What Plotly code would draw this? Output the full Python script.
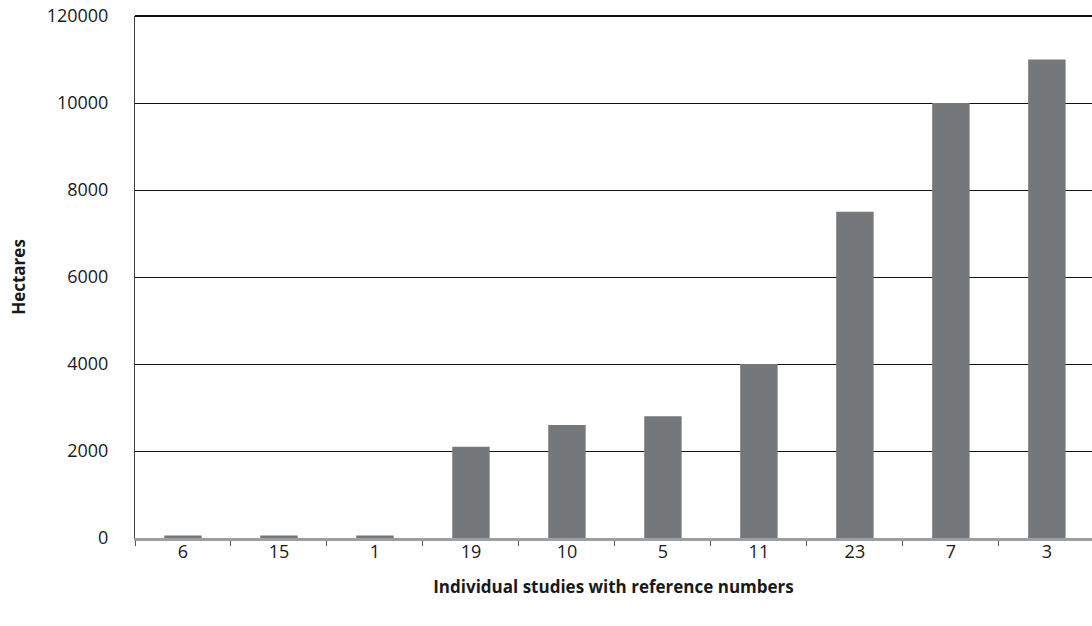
import plotly.graph_objects as go

categories = ["6", "15", "1", "19", "10", "5", "11", "23", "7", "3"]
hectares = [60, 60, 60, 2100, 2600, 2800, 4000, 7500, 10000, 11000]
y_tick_values = [0, 2000, 4000, 6000, 8000, 10000, 12000]
y_tick_labels = ["0", "2000", "4000", "6000", "8000", "10000", "120000"]

font_family = "Open Sans, Lato, sans-serif"

fig = go.Figure(
    go.Bar(
        x=categories,
        y=hectares,
        marker=dict(color="#75787b", line=dict(width=0)),
        width=0.39,
    )
)

fig.update_layout(
    width=1092,
    height=626,
    margin=dict(l=135, r=0, t=16, b=88, autoexpand=False),
    paper_bgcolor="white",
    plot_bgcolor="white",
    showlegend=False,
    font=dict(family=font_family, size=18, color="#1a1a1a"),
    shapes=[
        dict(
            type="line",
            xref="paper",
            yref="paper",
            x0=0,
            x1=1,
            y0=1,
            y1=1,
            line=dict(color="#111111", width=2),
        )
    ],
)

fig.update_xaxes(
    type="category",
    range=[-0.5, 9.47],
    automargin=False,
    showgrid=False,
    showline=True,
    linecolor="#9c9e9f",
    linewidth=3,
    ticks="outside",
    tickson="boundaries",
    ticklen=5,
    tickwidth=1,
    tickcolor="#555555",
    tickfont=dict(size=18),
    ticklabelstandoff=-5,
    title=dict(
        text="<b>Individual studies with reference numbers</b>",
        font=dict(size=17),
        standoff=20,
    ),
)

fig.update_yaxes(
    range=[0, 12000],
    automargin=False,
    tickvals=y_tick_values,
    ticktext=y_tick_labels,
    showgrid=True,
    gridcolor="#111111",
    gridwidth=1,
    zeroline=False,
    showline=True,
    linecolor="#444444",
    linewidth=1,
    ticks="",
    tickfont=dict(size=18),
    ticklabelstandoff=22,
    ticklabeloverflow="allow",
    title=dict(text="<b>Hectares</b>", font=dict(size=17), standoff=16),
)

fig.write_html(
    "out.html",
    config={"displayModeBar": False},
    post_script="document.body.style.margin='0';document.body.style.overflow='hidden';",
)
